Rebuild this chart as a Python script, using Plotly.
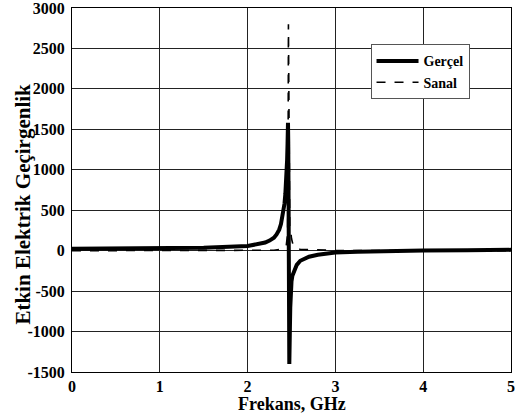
import plotly.graph_objects as go

freq_real = [0, 0.5, 1.0, 1.5, 2.0, 2.1, 2.2, 2.25, 2.3, 2.33, 2.36, 2.38, 2.4, 2.42,
             2.43, 2.44, 2.45, 2.455, 2.46, 2.463, 2.466, 2.468, 2.47, 2.472, 2.475,
             2.478, 2.482, 2.486, 2.49, 2.5, 2.51, 2.53, 2.56, 2.6, 2.65, 2.7, 2.8,
             2.9, 3.0, 3.25, 3.5, 4.0, 4.5, 5.0]
gercel = [25, 26, 28, 35, 58, 75, 100, 125, 160, 200, 260, 330, 430, 580,
          700, 870, 1120, 1320, 1580, 1350, 800, 300, -300, -1000, -1400,
          -1250, -950, -700, -540, -380, -310, -240, -175, -125, -95, -75, -50,
          -33, -22, -12, -5, 2, 6, 10]

freq_imag = [0, 0.5, 1.0, 1.5, 2.0, 2.2, 2.3, 2.4, 2.44, 2.455, 2.46, 2.465, 2.468,
             2.472, 2.48, 2.49, 2.5, 2.52, 2.6, 3.0, 4.0, 5.0]
sanal = [0, 0, 1, 1, 2, 3, 5, 20, 60, 200, 700, 2800, 2000,
         800, 300, 250, 150, 60, 15, 3, 1, 1]

x_ticks = [0, 1, 2, 3, 4, 5]
y_ticks = [-1500, -1000, -500, 0, 500, 1000, 1500, 2000, 2500, 3000]

font_fam = "Liberation Serif"

fig = go.Figure()
fig.add_trace(go.Scatter(x=freq_real, y=gercel, mode="lines", name="<b>Gerçel</b>",
                         line=dict(color="black", width=4)))
fig.add_trace(go.Scatter(x=freq_imag, y=sanal, mode="lines", name="<b>Sanal</b>",
                         line=dict(color="black", width=1.6, dash="dash")))

fig.update_layout(
    width=515, height=418,
    margin=dict(l=72, r=0, t=7, b=46),
    paper_bgcolor="white", plot_bgcolor="white",
    font=dict(family=font_fam, color="black", size=16),
    showlegend=True,
    legend=dict(x=0.68, y=0.9, xanchor="left", yanchor="top",
                bgcolor="white", bordercolor="#555", borderwidth=1,
                font=dict(family=font_fam, size=14, color="black"),
                tracegroupgap=0, itemwidth=42),
    annotations=[
        dict(text="<b>Frekans, GHz</b>", xref="paper", yref="paper", x=0.5, y=0,
             xanchor="center", yanchor="middle", yshift=-32, showarrow=False,
             font=dict(family=font_fam, size=18, color="black")),
        dict(text="<b>Etkin Elektrik Geçirgenlik</b>", xref="paper", yref="paper",
             x=0, y=0.46, xanchor="center", yanchor="middle", xshift=-49,
             textangle=-90, showarrow=False,
             font=dict(family=font_fam, size=21, color="black")),
    ],
)
fig.update_xaxes(range=[0, 5], tickvals=x_ticks,
                 ticktext=["<b>%d</b>" % v for v in x_ticks],
                 showgrid=True, gridcolor="#222", gridwidth=1,
                 showline=True, linecolor="black", linewidth=1, mirror=True,
                 ticks="", zeroline=False, ticklabeloverflow="allow",
                 ticklabelstandoff=0, tickfont=dict(size=16))
fig.update_yaxes(range=[-1500, 3000], tickvals=y_ticks,
                 ticktext=["<b>%d</b>" % v for v in y_ticks],
                 showgrid=True, gridcolor="#222", gridwidth=1,
                 showline=True, linecolor="black", linewidth=1, mirror=True,
                 ticks="", zeroline=False, ticklabeloverflow="allow",
                 ticklabelstandoff=3, tickfont=dict(size=16))

fig.write_html("out.html")
